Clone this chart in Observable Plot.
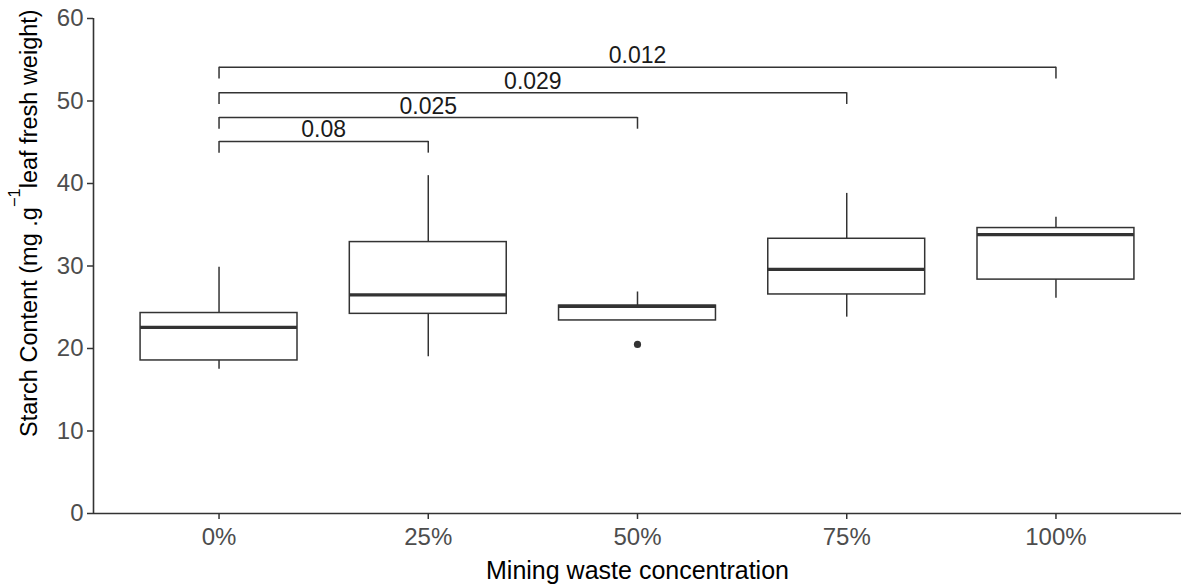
<!DOCTYPE html>
<html>
<head>
<meta charset="utf-8">
<script src="https://cdn.jsdelivr.net/npm/d3@7"></script>
<script src="https://cdn.jsdelivr.net/npm/@observablehq/plot@0.6"></script>
<style>
  html, body { margin: 0; padding: 0; background: #fff; }
  #chart svg { font-family: "Liberation Sans", Arial, sans-serif; }
</style>
</head>
<body>
<div id="chart"></div>
<script>
// ---- Data ----
const categories = ["0%", "25%", "50%", "75%", "100%"];
const whiskerLow  = [17.5, 19.0, 23.4, 23.8, 26.1];
const q1          = [18.55, 24.2, 23.4, 26.55, 28.35];
const medians     = [22.55, 26.5, 25.1, 29.6, 33.8];
const q3          = [24.3, 32.9, 25.2, 33.3, 34.6];
const whiskerHigh = [29.85, 40.95, 26.85, 38.8, 35.9];

const outlierCats   = ["50%"];
const outlierValues = [20.5];

const compFrom   = ["0%", "0%", "0%", "0%"];
const compTo     = ["25%", "50%", "75%", "100%"];
const compY      = [45.1, 48.0, 51.0, 54.1];
const compLabels = ["0.08", "0.025", "0.029", "0.012"];
const tipLength  = 1.42;

const yTicks = [0, 10, 20, 30, 40, 50, 60];

// ---- Tables ----
const idx = c => categories.indexOf(c);
const boxes = categories.map((c, i) => ({
  i, lo: whiskerLow[i], q1: q1[i], med: medians[i], q3: q3[i], hi: whiskerHigh[i]
}));
const outliers = outlierCats.map((c, k) => ({i: idx(c), v: outlierValues[k]}));
const comps = compFrom.map((c, k) => ({
  a: idx(c), b: idx(compTo[k]), y: compY[k], label: compLabels[k]
}));
const tips = comps.flatMap(d => [{x: d.a, y: d.y}, {x: d.b, y: d.y}]);

const half = 0.375;
const ink = "#333333";

const chart = Plot.plot({
  width: 1181,
  height: 586,
  marginLeft: 93,
  marginRight: 0,
  marginTop: 18,
  marginBottom: 73,
  style: {fontFamily: "Liberation Sans, Arial, sans-serif", background: "#fff"},
  x: {type: "linear", domain: [-0.6, categories.length - 0.4]},
  y: {domain: [0, 60]},
  marks: [
    Plot.axisY({ticks: yTicks, tickSize: 6, tickPadding: 4, fontSize: 24, label: null,
                stroke: ink, fill: "#4d4d4d", strokeWidth: 1.5}),
    Plot.axisX({ticks: categories.map((c, i) => i), tickFormat: i => categories[i],
                tickSize: 6, tickPadding: 8, fontSize: 24, label: null,
                stroke: ink, fill: "#4d4d4d", strokeWidth: 1.5}),
    Plot.ruleY([0], {stroke: ink, strokeWidth: 1.6}),
    Plot.ruleX([-0.6], {y1: 0, y2: 60, stroke: ink, strokeWidth: 1.6}),
    // whiskers
    Plot.ruleX(boxes, {x: "i", y1: "lo", y2: "hi", stroke: ink, strokeWidth: 1.5}),
    // boxes
    Plot.rectY(boxes, {x1: d => d.i - half, x2: d => d.i + half, y1: "q1", y2: "q3",
                       fill: "white", stroke: ink, strokeWidth: 1.5}),
    // medians
    Plot.ruleY(boxes, {x1: d => d.i - half, x2: d => d.i + half, y: "med",
                       stroke: ink, strokeWidth: 3.2}),
    // outliers
    Plot.dot(outliers, {x: "i", y: "v", r: 3.6, fill: ink, stroke: null}),
    // significance brackets
    Plot.link(comps, {x1: "a", x2: "b", y1: "y", y2: "y", stroke: ink, strokeWidth: 1.5}),
    Plot.ruleX(tips, {x: "x", y1: "y", y2: d => d.y - tipLength, stroke: ink, strokeWidth: 1.5}),
    Plot.text(comps, {x: d => (d.a + d.b) / 2, y: "y", text: "label", dy: -4,
                      lineAnchor: "bottom", fontSize: 23, fill: "#1a1a1a"}),
    // x axis title
    Plot.text(["Mining waste concentration"], {frameAnchor: "bottom", dy: 65,
                      lineAnchor: "bottom", fontSize: 25, fill: "#000"})
  ]
});

// y axis title with superscript
const svg = d3.select(chart);
const t = svg.append("text")
  .attr("transform", "translate(37,437) rotate(-90)")
  .attr("text-anchor", "start")
  .attr("font-size", 23.5)
  .attr("fill", "#000");
t.append("tspan").text("Starch Content (mg .g");
t.append("tspan").attr("font-size", 16.5).attr("dy", "-17").text("\u22121");
t.append("tspan").attr("dy", "17").text("leaf fresh weight)");

document.getElementById("chart").appendChild(chart);
</script>
</body>
</html>
